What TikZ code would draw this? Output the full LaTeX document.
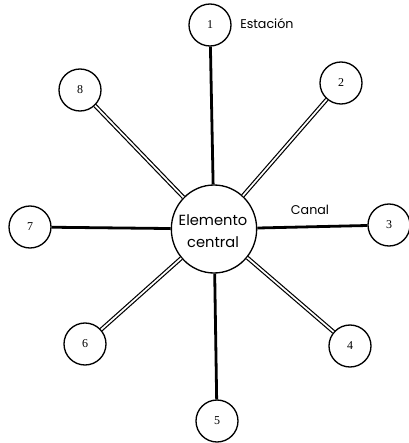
\documentclass[tikz,border=0pt]{standalone}
\usepackage{fontspec}
\setmainfont{Poppins}
\newfontfamily\numfont{Liberation Serif}
\usetikzlibrary{shapes.geometric}
\begin{document}
\begin{tikzpicture}[x=0.75pt,y=-0.75pt,
  station/.style={circle,draw,line width=1pt,minimum size=31.5pt,inner sep=0pt,font=\numfont\fontsize{9}{10}\selectfont},
  hub/.style={ellipse,draw,line width=1pt,minimum width=64pt,minimum height=66pt,inner sep=0pt},
  single/.style={line width=2.1pt},
  twin/.style={double,line width=0.9pt,double distance=1.3pt},
  lbl/.style={font=\fontsize{9.5}{11}\selectfont,inner sep=0pt}]
\useasboundingbox (0,0) rectangle (409,443);
\node[hub] (c) at (214,229) {};
\node[align=center,font=\fontsize{11}{16}\selectfont,inner sep=0pt] (ct) at (213,231) {Elemento\\central};
\node[station] (n1) at (210,25) {1};
\node[station] (n2) at (341,83) {2};
\node[station] (n3) at (389,225) {3};
\node[station] (n4) at (350,346) {4};
\node[station] (n5) at (217,421) {5};
\node[station] (n6) at (85,344) {6};
\node[station] (n7) at (30,227) {7};
\node[station] (n8) at (80,90) {8};
\draw[single] (n1) -- (c);
\draw[single] (n3) -- (c);
\draw[single] (n5) -- (c);
\draw[single] (n7) -- (c);
\draw[twin] (n2) -- (c);
\draw[twin] (n4) -- (c);
\draw[twin] (n6) -- (c);
\draw[twin] (n8) -- (c);
\node[lbl,anchor=west] (est) at (240,24) {Estación};
\node[lbl] (can) at (310,210) {Canal};
\end{tikzpicture}
\end{document}
